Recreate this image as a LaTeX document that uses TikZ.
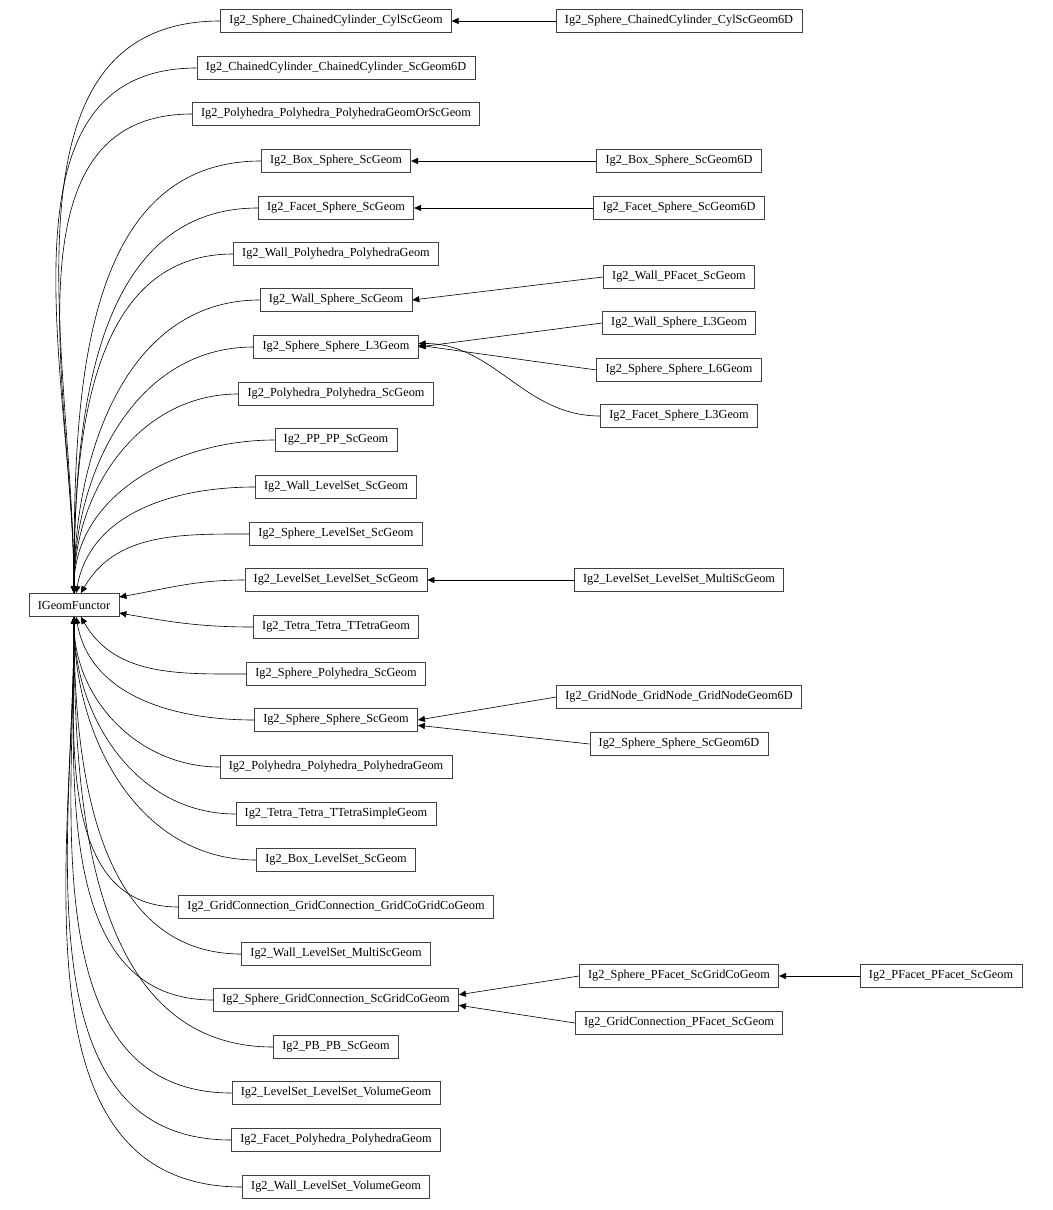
\documentclass[tikz,border=0pt]{standalone}
\usepackage{fontspec}
\setmainfont{Liberation Serif}
\usetikzlibrary{arrows.meta}
\tikzset{
  cls/.style={draw=black!75,line width=0.4pt,fill=white,font=\fontsize{7}{8}\selectfont,minimum height=0.46cm,inner xsep=5pt},
  inh/.style={{Triangle[length=4pt,width=3.5pt]}-,line width=0.35pt}
}
\begin{document}
\begin{tikzpicture}[x=0.02cm,y=-0.02cm]
\useasboundingbox (0,0) rectangle (1052,1210);
\node[cls] (base) at (74,605) {IGeomFunctor};
% middle column
\foreach \n/\y/\a/\t in {
  a/21/90/Ig2\_Sphere\_ChainedCylinder\_CylScGeom,
  b/68/90/Ig2\_ChainedCylinder\_ChainedCylinder\_ScGeom6D,
  c/114/90/Ig2\_Polyhedra\_Polyhedra\_PolyhedraGeomOrScGeom,
  d/161/90/Ig2\_Box\_Sphere\_ScGeom,
  e/208/90/Ig2\_Facet\_Sphere\_ScGeom,
  f/254/90/Ig2\_Wall\_Polyhedra\_PolyhedraGeom,
  g/300/90/Ig2\_Wall\_Sphere\_ScGeom,
  h/347/90/Ig2\_Sphere\_Sphere\_L3Geom,
  i/394/90/Ig2\_Polyhedra\_Polyhedra\_ScGeom,
  j/440/90/Ig2\_PP\_PP\_ScGeom,
  k/487/80/Ig2\_Wall\_LevelSet\_ScGeom,
  l/534/60/Ig2\_Sphere\_LevelSet\_ScGeom,
  m/580/10/Ig2\_LevelSet\_LevelSet\_ScGeom,
  n/627/-10/Ig2\_Tetra\_Tetra\_TTetraGeom,
  o/674/-60/Ig2\_Sphere\_Polyhedra\_ScGeom,
  p/720/-80/Ig2\_Sphere\_Sphere\_ScGeom,
  q/767/-90/Ig2\_Polyhedra\_Polyhedra\_PolyhedraGeom,
  r/814/-90/Ig2\_Tetra\_Tetra\_TTetraSimpleGeom,
  s/860/-90/Ig2\_Box\_LevelSet\_ScGeom,
  t/907/-90/Ig2\_GridConnection\_GridConnection\_GridCoGridCoGeom,
  u/954/-90/Ig2\_Wall\_LevelSet\_MultiScGeom,
  v/1000/-90/Ig2\_Sphere\_GridConnection\_ScGridCoGeom,
  w/1047/-90/Ig2\_PB\_PB\_ScGeom,
  x/1093/-90/Ig2\_LevelSet\_LevelSet\_VolumeGeom,
  y/1140/-90/Ig2\_Facet\_Polyhedra\_PolyhedraGeom,
  z/1187/-90/Ig2\_Wall\_LevelSet\_VolumeGeom}{
  \node[cls] (\n) at (336,\y) {\t};
  \draw[inh] (base.\a) to[out=\a,in=180] (\n.west);
}
% right column
\node[cls] (a6) at (679,21) {Ig2\_Sphere\_ChainedCylinder\_CylScGeom6D};
\node[cls] (d6) at (679,161) {Ig2\_Box\_Sphere\_ScGeom6D};
\node[cls] (e6) at (679,208) {Ig2\_Facet\_Sphere\_ScGeom6D};
\node[cls] (wpf) at (679,277) {Ig2\_Wall\_PFacet\_ScGeom};
\node[cls] (wl3) at (679,323) {Ig2\_Wall\_Sphere\_L3Geom};
\node[cls] (l6) at (679,370) {Ig2\_Sphere\_Sphere\_L6Geom};
\node[cls] (fl3) at (679,416) {Ig2\_Facet\_Sphere\_L3Geom};
\node[cls] (ms) at (679,580) {Ig2\_LevelSet\_LevelSet\_MultiScGeom};
\node[cls] (gn) at (679,697) {Ig2\_GridNode\_GridNode\_GridNodeGeom6D};
\node[cls] (s6) at (679,744) {Ig2\_Sphere\_Sphere\_ScGeom6D};
\node[cls] (spf) at (679,976) {Ig2\_Sphere\_PFacet\_ScGridCoGeom};
\node[cls] (gpf) at (679,1023) {Ig2\_GridConnection\_PFacet\_ScGeom};
\node[cls] (pp) at (941,976) {Ig2\_PFacet\_PFacet\_ScGeom};
\draw[inh] (a) -- (a6);
\draw[inh] (d) -- (d6);
\draw[inh] (e) -- (e6);
\draw[inh] (g.east) -- (wpf.west);
\draw[inh] (h.east) -- (wl3.west);
\draw[inh] ([yshift=1pt]h.east) -- (l6.west);
\draw[inh] ([yshift=2pt]h.east) to[out=0,in=180] (fl3.west);
\draw[inh] (m) -- (ms);
\draw[inh] (p.east) -- (gn.west);
\draw[inh] ([yshift=-3pt]p.east) -- (s6.west);
\draw[inh] ([yshift=3pt]v.east) -- (spf.west);
\draw[inh] ([yshift=-3pt]v.east) -- (gpf.west);
\draw[inh] (spf) -- (pp);
\end{tikzpicture}
\end{document}
